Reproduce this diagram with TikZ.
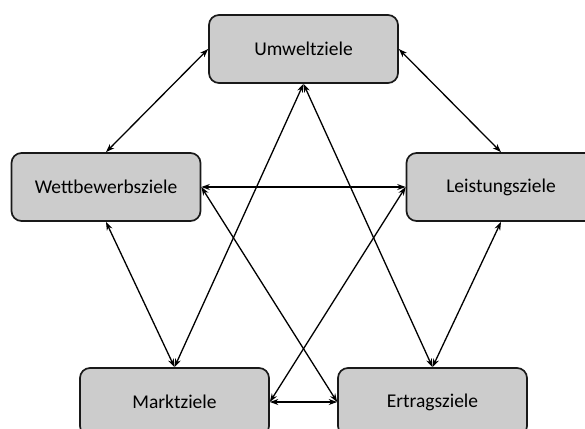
\documentclass[tikz,border=0pt]{standalone}
\usepackage{fontspec}
\setmainfont{Carlito}
\usetikzlibrary{arrows.meta}
\begin{document}
\begin{tikzpicture}[x=1pt,y=-1pt,
  goal/.style={draw=black!90, line width=1.7pt, fill=black!20, rounded corners=10pt,
    minimum width=189pt, minimum height=68pt, inner sep=0pt,
    font=\fontsize{19.5}{23}\selectfont},
  link/.style={line width=1.3pt, {Stealth[length=8.5pt,width=6pt]}-{Stealth[length=8.5pt,width=6pt]}}]
  \useasboundingbox (0,0) rectangle (585,428);
  \begin{scope}
    \clip (0,0) rectangle (585,428);
    \node[goal] (u) at (303.5,49) {Umweltziele};
    \node[goal] (w) at (106,187) {Wettbewerbsziele};
    \node[goal] (l) at (501,187) {Leistungsziele};
    \node[goal] (m) at (174.5,402) {Marktziele};
    \node[goal] (e) at (432.5,402) {Ertragsziele};
  \end{scope}
  \draw[link] (u.west) -- (w.north);
  \draw[link] (u.east) -- (l.north);
  \draw[link] (u.south) -- (m.north);
  \draw[link] (u.south) -- (e.north);
  \draw[link] (w.east) -- (l.west);
  \draw[link] (w.east) -- (e.west);
  \draw[link] (w.south) -- (m.north);
  \draw[link] (l.south) -- (e.north);
  \draw[link] (l.west) -- (m.east);
  \draw[link] (m.east) -- (e.west);
\end{tikzpicture}
\end{document}
